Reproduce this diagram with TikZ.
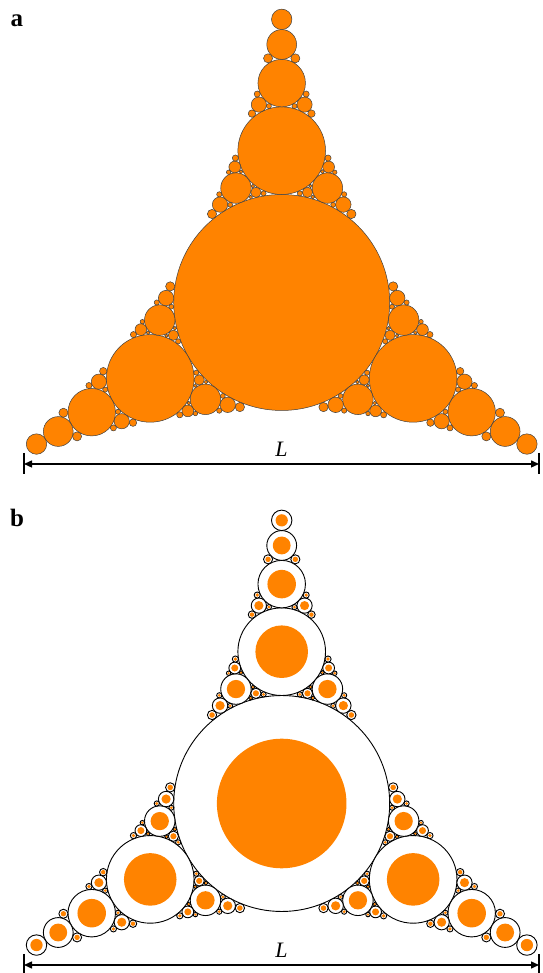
\documentclass[tikz,border=0pt]{standalone}
\usepackage{fontspec}
\setmainfont{Liberation Serif}
\usetikzlibrary{arrows.meta}
\definecolor{disc}{RGB}{255,131,0}
\tikzset{
  discA/.style={fill=disc,draw=black!75,line width=0.5pt},
  discB/.style={fill=white,draw=black,line width=0.9pt},
  discIn/.style={fill=disc},
  dimline/.style={line width=1.4pt,{Triangle[length=8pt,width=7pt]}-{Triangle[length=8pt,width=7pt]}},
  dimbar/.style={line width=1.3pt},
  panellabel/.style={inner sep=0pt,anchor=base west,font=\fontsize{25}{25}\selectfont\bfseries},
  dimlabel/.style={inner sep=0pt,anchor=base,font=\fontsize{22}{22}\selectfont\itshape}
}
\def\apgetc#1/#2/#3\relax#4#5#6{\def#4{#1}\def#5{#2}\def#6{#3}}
\def\apmaxdepth{4}
\newcommand\apgap[5]{%
 \begingroup
  \apgetc#1\relax\appk\appa\appb
  \apgetc#2\relax\apqk\apqa\apqb
  \apgetc#3\relax\aprk\apra\aprb
  \apgetc#4\relax\apsk\apsa\apsb
  \pgfmathsetmacro\apnk{2*((\appk)+(\apqk)+(\aprk))-(\apsk)}%
  \pgfmathsetmacro\apna{2*((\appa)+(\apqa)+(\apra))-(\apsa)}%
  \pgfmathsetmacro\apnb{2*((\appb)+(\apqb)+(\aprb))-(\apsb)}%
  \pgfmathsetmacro\apx{\apna/\apnk}%
  \pgfmathsetmacro\apy{\apnb/\apnk}%
  \pgfmathsetmacro\apr{1/\apnk}%
  \apdisc
  \ifnum#5<\apmaxdepth\relax
    \edef\apnext{%
      \noexpand\apgap{#1}{#2}{\apnk/\apna/\apnb}{#3}{\the\numexpr#5+1\relax}%
      \noexpand\apgap{#1}{#3}{\apnk/\apna/\apnb}{#2}{\the\numexpr#5+1\relax}%
      \noexpand\apgap{#2}{#3}{\apnk/\apna/\apnb}{#1}{\the\numexpr#5+1\relax}}%
    \apnext
  \fi
 \endgroup}
\def\apkzero{0.926089}
\def\apkb{0.143266}
\newcommand\appacking{%
  \def\apx{0}\def\apy{0}\pgfmathsetmacro\apr{1/\apkzero}\apdisc
  \apgap{\apkzero/0/0}{\apkb/1/0.57735}{\apkb/-1/0.57735}{\apkb/0/-1.154701}{1}%
  \apgap{\apkzero/0/0}{\apkb/-1/0.57735}{\apkb/0/-1.154701}{\apkb/1/0.57735}{1}%
  \apgap{\apkzero/0/0}{\apkb/0/-1.154701}{\apkb/1/0.57735}{\apkb/-1/0.57735}{1}%
}
\begin{document}
\begin{tikzpicture}[x=1pt,y=1pt]
\useasboundingbox (0,0) rectangle (542,973);
% panel a
\begin{scope}[shift={(281.7,670.5)},x=100pt,y=100pt]
  \def\apdisc{\path[discA] (\apx,\apy) circle[radius=\apr];}
  \appacking
\end{scope}
% panel b
\begin{scope}[shift={(281.7,169.5)},x=100pt,y=100pt]
  \def\apdisc{\path[discB] (\apx,\apy) circle[radius=\apr];\path[discIn] (\apx,\apy) circle[radius=0.6*\apr];}
  \appacking
\end{scope}
% labels
\node[panellabel] (la) at (10.5,946) {a};
\node[panellabel] (lb) at (10,446) {b};
% dimension a
\coordinate (aL) at (24,509);
\coordinate (aR) at (539,509);
\coordinate (aLt) at (24,520);
\coordinate (aLb) at (24,499);
\coordinate (aRt) at (539,520);
\coordinate (aRb) at (539,499);
\draw[dimline] (aL) -- (aR);
\draw[dimbar] (aLt) -- (aLb);
\draw[dimbar] (aRt) -- (aRb);
\node[dimlabel] (La) at (281.5,516) {L};
% dimension b
\coordinate (bL) at (24,8);
\coordinate (bR) at (539,8);
\coordinate (bLt) at (24,19);
\coordinate (bLb) at (24,-2);
\coordinate (bRt) at (539,19);
\coordinate (bRb) at (539,-2);
\draw[dimline] (bL) -- (bR);
\draw[dimbar] (bLt) -- (bLb);
\draw[dimbar] (bRt) -- (bRb);
\node[dimlabel] (Lb) at (281.5,15) {L};
\end{tikzpicture}
\end{document}
